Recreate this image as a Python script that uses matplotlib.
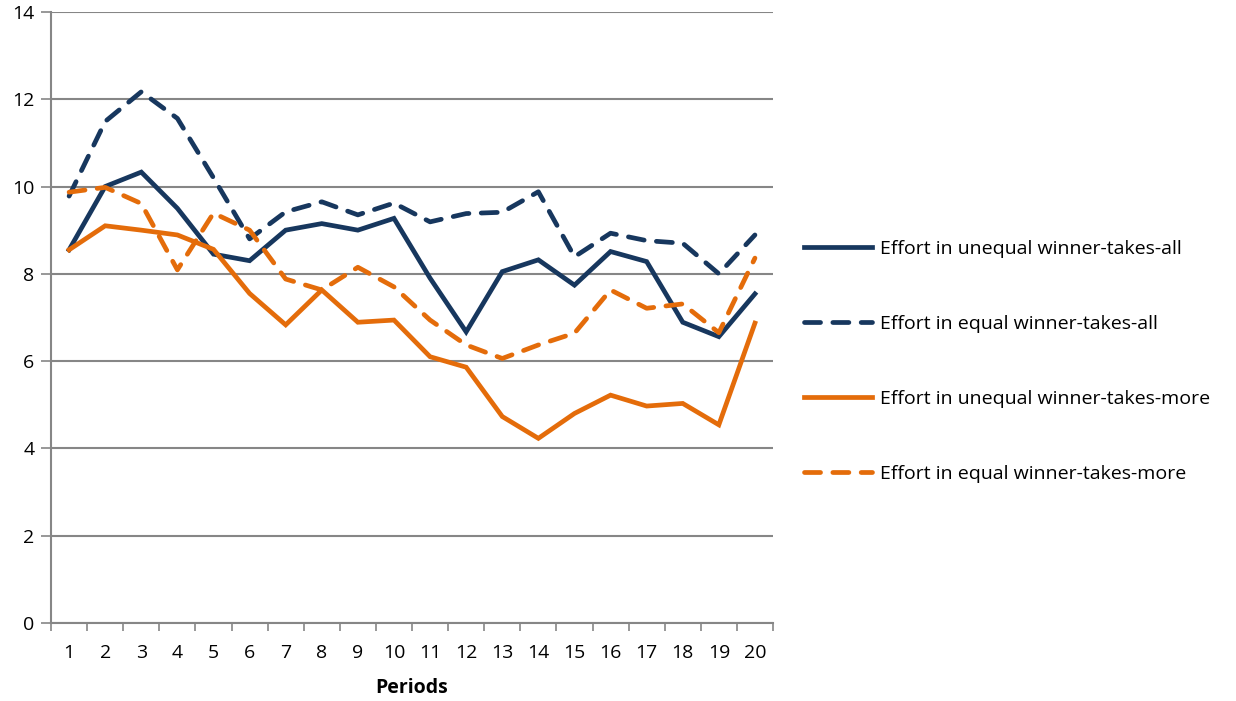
import matplotlib.pyplot as plt
import numpy as np

# data
periods = list(range(1, 21))
unequal_wta = [8.55, 10.0, 10.33, 9.5, 8.45, 8.3, 9.0, 9.15, 9.0, 9.27,
               7.9, 6.67, 8.05, 8.32, 7.74, 8.51, 8.28, 6.89, 6.56, 7.54]
equal_wta = [9.78, 11.49, 12.17, 11.56, 10.2, 8.8, 9.42, 9.65, 9.35, 9.62,
             9.19, 9.38, 9.41, 9.88, 8.39, 8.93, 8.76, 8.7, 8.0, 8.89]
unequal_wtm = [8.55, 9.1, 9.0, 8.89, 8.56, 7.55, 6.83, 7.63, 6.89, 6.94,
               6.1, 5.86, 4.73, 4.23, 4.8, 5.22, 4.97, 5.03, 4.54, 6.87]
equal_wtm = [9.87, 9.98, 9.61, 8.09, 9.39, 9.0, 7.88, 7.63, 8.15, 7.7,
             6.94, 6.37, 6.06, 6.37, 6.64, 7.63, 7.21, 7.31, 6.65, 8.36]
labels = ['Effort in unequal winner-takes-all',
          'Effort in equal winner-takes-all',
          'Effort in unequal winner-takes-more',
          'Effort in equal winner-takes-more']

NAVY = '#17375E'
ORANGE = '#E46C0A'
GRID = '#868686'
FS = 14

plt.rcParams['font.family'] = ['Open Sans', 'DejaVu Sans']

fig = plt.figure(figsize=(12.36, 7.01), dpi=100)
ax = fig.add_axes([0.0413, 0.1113, 0.5841, 0.8717])

lw = 3.4
dash = (3.4, 2.6)
ax.plot(periods, unequal_wta, color=NAVY, lw=lw, label=labels[0], solid_joinstyle='miter')
ax.plot(periods, equal_wta, color=NAVY, lw=lw, label=labels[1], dashes=dash,
        dash_capstyle='round')
ax.plot(periods, unequal_wtm, color=ORANGE, lw=lw, label=labels[2], solid_joinstyle='miter')
ax.plot(periods, equal_wtm, color=ORANGE, lw=lw, label=labels[3], dashes=dash,
        dash_capstyle='round')

ax.set_xlim(0.5, 20.5)
ax.set_ylim(0, 14)
ax.set_yticks(np.arange(0, 15, 2))
ax.yaxis.grid(True, color=GRID, lw=1.5)
ax.set_axisbelow(True)

ax.set_xticks(periods)
ax.set_xticklabels([str(p) for p in periods])
ax.set_xticks(np.arange(0.5, 21, 1), minor=True)
ax.tick_params(axis='x', which='major', length=0, pad=15, labelsize=FS)
ax.tick_params(axis='x', which='minor', length=6, width=1.2, color=GRID, direction='out')
ax.tick_params(axis='y', length=7, width=1.2, color=GRID, direction='out', labelsize=FS, pad=5)

for side in ['top', 'right']:
    ax.spines[side].set_visible(False)
for side in ['left', 'bottom']:
    ax.spines[side].set_color(GRID)
    ax.spines[side].set_linewidth(1.5)

ax.set_xlabel('Periods', fontsize=FS, fontweight='bold', labelpad=12)

fig.legend(loc='center left', bbox_to_anchor=(0.636, 0.484), frameon=False,
           fontsize=FS, handlelength=3.5, labelspacing=2.93, handletextpad=0.45)

fig.savefig('out.png', dpi=100)
